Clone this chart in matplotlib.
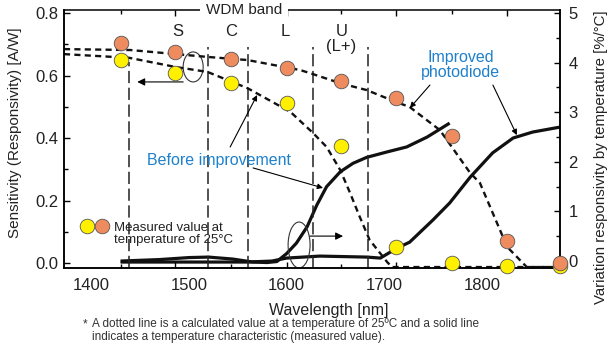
import matplotlib
matplotlib.use('Agg')
import matplotlib.pyplot as plt
from matplotlib.patches import Ellipse

plt.rcParams['font.family'] = ['Liberation Sans', 'DejaVu Sans']

# measured values at 25 C (left axis, A/W)
meas_wl = [1430, 1486, 1543, 1600, 1656, 1712, 1769, 1826, 1880]
meas_improved = [0.705, 0.676, 0.653, 0.624, 0.583, 0.529, 0.407, 0.071, 0.0]
meas_before = [0.65, 0.608, 0.576, 0.512, 0.375, 0.052, 0.0, -0.01, -0.01]

# calculated responsivity at 25 C (dotted)
calc_improved_wl = [1372, 1440, 1519, 1560, 1614, 1627, 1656, 1682, 1712, 1726, 1757, 1788, 1798, 1826, 1846, 1880]
calc_improved = [0.685, 0.682, 0.66, 0.65, 0.618, 0.605, 0.575, 0.554, 0.516, 0.5, 0.426, 0.289, 0.257, 0.052, -0.012, -0.012]
calc_before_wl = [1372, 1439, 1486, 1519, 1560, 1604, 1627, 1641, 1655, 1665, 1675, 1685, 1703, 1708, 1880]
calc_before = [0.669, 0.657, 0.628, 0.612, 0.56, 0.484, 0.417, 0.372, 0.298, 0.225, 0.148, 0.075, 0.004, -0.012, -0.012]

# temperature characteristic (right axis, %/C, solid)
solid_before_wl = [1430, 1470, 1500, 1520, 1545, 1565, 1580, 1590, 1600, 1610, 1621, 1631, 1641, 1655, 1668, 1682, 1703, 1723, 1744, 1767]
solid_before = [0.0, 0.03, 0.07, 0.08, 0.04, -0.02, -0.03, -0.01, 0.15, 0.36, 0.69, 1.13, 1.5, 1.8, 1.97, 2.09, 2.2, 2.3, 2.5, 2.78]
solid_improved_wl = [1430, 1500, 1560, 1585, 1600, 1634, 1682, 1696, 1713, 1726, 1750, 1767, 1788, 1811, 1832, 1852, 1880]
solid_improved = [-0.02, -0.02, -0.02, 0.0, 0.06, 0.1, 0.08, 0.06, 0.26, 0.38, 0.83, 1.17, 1.69, 2.18, 2.48, 2.6, 2.7]

# WDM band boundaries and names
band_edges = [1439, 1519, 1560, 1627, 1683]
band_tops = [0.644, 0.692, 0.692, 0.692, 0.692]
band_names = ['S', 'C', 'L', 'U\n(L+)']
band_centers = [1489, 1543, 1599, 1656]

x_tick_labels = [1400, 1500, 1600, 1700, 1800]
left_ticks = [0.0, 0.2, 0.4, 0.6, 0.8]
right_ticks = [0, 1, 2, 3, 4, 5]

ORANGE = '#ef8c5f'
YELLOW = '#fff000'
BLUE = '#1f80cc'
TXT = '#222222'

fig = plt.figure(figsize=(6.11, 3.5), dpi=100)
ax = fig.add_axes([0.1047, 0.2343, 0.8118, 0.7371])
ax2 = ax.twinx()
ax.set_zorder(ax2.get_zorder() + 1)
ax.patch.set_visible(False)

ax.set_xlim(1372, 1880)
ax.set_ylim(-0.015, 0.81)
ax2.set_ylim(-0.14, 5.06)

# solid lines (right axis)
ax2.plot(solid_improved_wl, solid_improved, color='#111111', lw=2.3, solid_capstyle='butt')
ax2.plot(solid_before_wl, solid_before, color='#111111', lw=2.3, solid_capstyle='butt')

# band boundaries
ax.vlines(band_edges, -0.015, band_tops, colors='#222222', linestyles=(0, (8, 3)), lw=1.1)

# dotted calculated curves
ax.plot(calc_improved_wl, calc_improved, color='#111111', lw=1.7, ls=(0, (2.6, 1.8)), clip_on=False)
ax.plot(calc_before_wl, calc_before, color='#111111', lw=1.7, ls=(0, (2.6, 1.8)), clip_on=False)

# measured points
ax.plot(meas_wl, meas_before, 'o', ms=10.5, mfc=YELLOW, mec='#555555', mew=0.6, clip_on=False, zorder=4)
ax.plot(meas_wl, meas_improved, 'o', ms=10.5, mfc=ORANGE, mec='#555555', mew=0.6, clip_on=False, zorder=4)

# ticks
ax.set_yticks(left_ticks)
ax.set_yticklabels(['%.1f' % v for v in left_ticks])
ax.set_yticks([0.1, 0.3, 0.5, 0.7], minor=True)
ax.tick_params(axis='y', which='both', direction='in', labelsize=12, pad=4, labelcolor=TXT)
ax.tick_params(axis='y', which='major', length=4.5, width=1)
ax.tick_params(axis='y', which='minor', length=3, width=1)

ax.set_xticks([1486, 1600, 1712, 1826])
ax.set_xticks([1430, 1543, 1656, 1769], minor=True)
ax.tick_params(axis='x', which='both', direction='in', top=True, bottom=True, labelbottom=False)
ax.tick_params(axis='x', which='major', length=4.5, width=1)
ax.tick_params(axis='x', which='minor', length=3, width=1)

sec = ax.secondary_xaxis('bottom')
sec.set_xticks(x_tick_labels)
sec.tick_params(length=0, labelsize=12, pad=7, labelcolor=TXT)
sec.spines['bottom'].set_visible(False)

ax2.set_yticks(right_ticks)
ax2.set_yticks([0.5, 1.5, 2.5, 3.5, 4.5], minor=True)
ax2.tick_params(axis='y', which='both', direction='in', labelsize=12, pad=6, labelcolor=TXT)
ax2.tick_params(axis='y', which='major', length=4.5, width=1)
ax2.tick_params(axis='y', which='minor', length=3, width=1)

for s in ax.spines.values():
    s.set_linewidth(1.1)
for s in ax2.spines.values():
    s.set_linewidth(1.1)
ax2.spines['top'].set_visible(False)

# labels
ax.set_xlabel('Wavelength [nm]', fontsize=11.5, color=TXT)
ax.xaxis.set_label_coords(0.534, -0.136)
ax.set_ylabel('Sensitivity (Responsivity) [A/W]', fontsize=11, color=TXT)
ax.yaxis.set_label_coords(-0.085, 0.523)
ax2.set_ylabel('Variation responsivity by temperature [%/°C]', fontsize=10.8, color=TXT, rotation=90)
ax2.yaxis.set_label_coords(1.068, 0.43)

ax.text(1556.5, 1.0, 'WDM band', transform=ax.get_xaxis_transform(), ha='center', va='center',
        fontsize=11, color=TXT, bbox=dict(fc='white', ec='none', pad=4))
for name, xc in zip(band_names, band_centers):
    ax.text(xc, 0.765, name, ha='center', va='top', fontsize=12, color=TXT, linespacing=1.0)

# annotations
ax.text(1530.4, 0.33, 'Before improvement', ha='center', va='center', fontsize=11.5, color=BLUE)
ax.text(1778.5, 0.633, 'Improved\nphotodiode', ha='center', va='center', fontsize=11.5, color=BLUE,
        linespacing=1.0)

arrow = dict(arrowstyle='-|>', color='black', lw=0.8, mutation_scale=8, shrinkA=0, shrinkB=0)
ax.annotate('', xy=(1569.8, 0.538), xytext=(1542.2, 0.372), arrowprops=arrow)
ax.annotate('', xy=(1637.3, 0.241), xytext=(1565.7, 0.305), arrowprops=arrow)
ax.annotate('', xy=(1726.3, 0.497), xytext=(1746.8, 0.57), arrowprops=arrow)
ax.annotate('', xy=(1835.8, 0.41), xytext=(1811.3, 0.57), arrowprops=arrow)

big_arrow = dict(arrowstyle='-|>', color='black', lw=0.8, mutation_scale=11, shrinkA=0, shrinkB=0)
ax.add_patch(Ellipse((1504.3, 0.628), 20.5, 0.096, fill=False, ec='#333333', lw=0.8))
ax.annotate('', xy=(1447.1, 0.58), xytext=(1494.1, 0.58), arrowprops=big_arrow)
ax.add_patch(Ellipse((1612.8, 0.0585), 22.5, 0.147, fill=False, ec='#333333', lw=0.8))
ax.annotate('', xy=(1657.8, 0.087), xytext=(1624.0, 0.087), arrowprops=big_arrow)

# legend for measured points
ax.plot([0.0464], [0.163], 'o', ms=10.5, mfc=YELLOW, mec='#555555', mew=0.6, transform=ax.transAxes)
ax.plot([0.0766], [0.163], 'o', ms=10.5, mfc=ORANGE, mec='#555555', mew=0.6, transform=ax.transAxes)
ax.text(0.1008, 0.132, 'Measured value at\ntemperature of 25°C', transform=ax.transAxes,
        ha='left', va='center', fontsize=9.5, color=TXT, linespacing=1.05)

# footnote
fig.text(0.1358, 0.0743, '*', ha='left', va='center', fontsize=8.5, color='#333333')
fig.text(0.1506, 0.056, 'A dotted line is a calculated value at a temperature of 25ºC and a solid line\n'
         'indicates a temperature characteristic (measured value).',
         ha='left', va='center', fontsize=8.5, color='#333333', linespacing=1.05)

fig.savefig('out.png', dpi=100)
